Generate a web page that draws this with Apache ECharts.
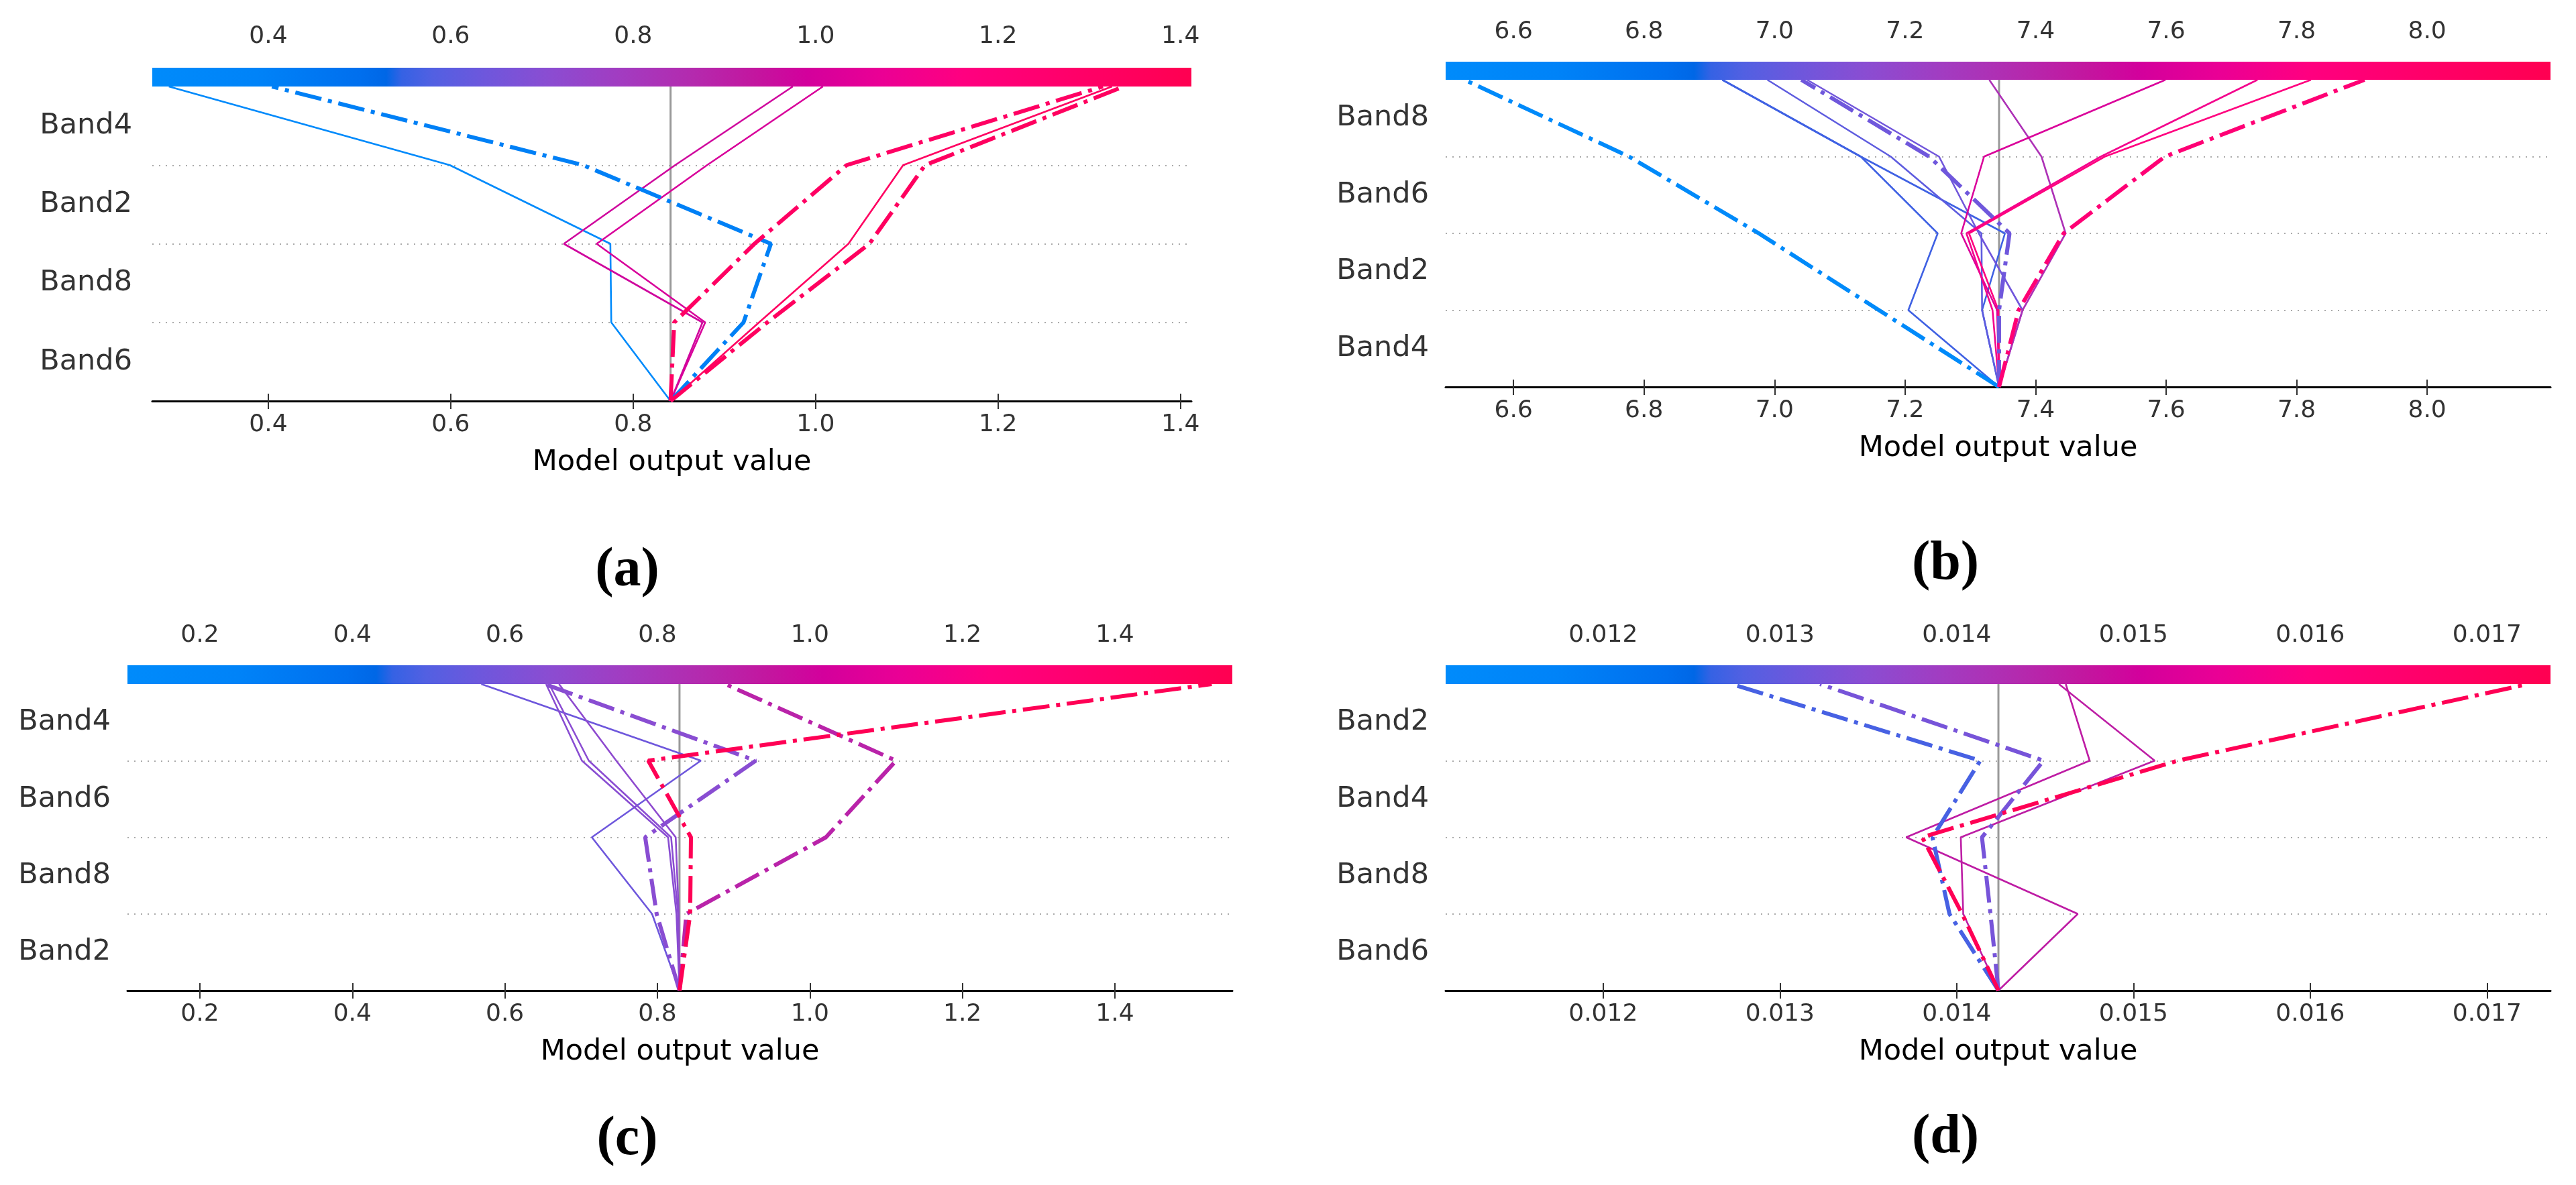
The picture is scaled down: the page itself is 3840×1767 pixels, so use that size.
<!DOCTYPE html>
<html>
<head>
<meta charset="utf-8">
<script src="https://cdn.jsdelivr.net/npm/echarts@6/dist/echarts.min.js"></script>
<style>
html,body{margin:0;padding:0;background:#ffffff;}
#chart{width:3840px;height:1767px;}
</style>
</head>
<body>
<div id="chart"></div>
<script>
// ===================== DATA =====================
// Each path: cumulative model output at levels 0 (base) .. 4 (final)
// Panel (a)
const featuresA = ['Band6', 'Band8', 'Band2', 'Band4']; // bottom -> top
const baseA = 0.841;
const rangeA = [0.2728, 1.412];
const ticksA = [0.4, 0.6, 0.8, 1.0, 1.2, 1.4];
const pathsA = [
  [0.841, 0.776, 0.775, 0.599, 0.291],
  [0.841, 0.876, 0.724, 0.846, 0.975],
  [0.841, 0.879, 0.760, 0.881, 1.008],
  [0.841, 0.938, 1.036, 1.096, 1.325],
  [0.841, 0.921, 0.951, 0.745, 0.404],
  [0.841, 0.845, 0.933, 1.034, 1.315],
  [0.841, 0.947, 1.059, 1.120, 1.338]
];
const dashedA = [false, false, false, false, true, true, true];

// Panel (b)
const featuresB = ['Band4', 'Band2', 'Band6', 'Band8'];
const baseB = 7.344;
const rangeB = [6.496, 8.189];
const ticksB = [6.6, 6.8, 7.0, 7.2, 7.4, 7.6, 7.8, 8.0];
const pathsB = [
  [7.344, 7.205, 7.250, 7.132, 6.920],
  [7.344, 7.318, 7.353, 7.132, 6.920],
  [7.344, 7.318, 7.317, 7.178, 6.989],
  [7.344, 7.380, 7.313, 7.252, 7.050],
  [7.344, 7.380, 7.446, 7.409, 7.329],
  [7.344, 7.341, 7.286, 7.321, 7.599],
  [7.344, 7.334, 7.294, 7.500, 7.740],
  [7.344, 7.343, 7.298, 7.506, 7.822],
  [7.344, 7.160, 6.976, 6.777, 6.525],
  [7.344, 7.344, 7.360, 7.237, 7.041],
  [7.344, 7.374, 7.443, 7.598, 7.904]
];
const dashedB = [false, false, false, false, false, false, false, false, true, true, true];

// Panel (c)
const featuresC = ['Band2', 'Band8', 'Band6', 'Band4'];
const baseC = 0.829;
const rangeC = [0.105, 1.554];
const ticksC = [0.2, 0.4, 0.6, 0.8, 1.0, 1.2, 1.4];
const pathsC = [
  [0.829, 0.793, 0.714, 0.857, 0.569],
  [0.829, 0.825, 0.814, 0.701, 0.654],
  [0.829, 0.827, 0.818, 0.710, 0.658],
  [0.829, 0.828, 0.824, 0.746, 0.671],
  [0.829, 0.799, 0.784, 0.929, 0.652],
  [0.829, 0.838, 1.021, 1.113, 0.889],
  [0.829, 0.843, 0.844, 0.788, 1.527]
];
const dashedC = [false, false, false, false, true, true, true];

// Panel (d)
const featuresD = ['Band6', 'Band8', 'Band4', 'Band2'];
const baseD = 0.014236;
const rangeD = [0.011109, 0.017359];
const ticksD = [0.012, 0.013, 0.014, 0.015, 0.016, 0.017];
const pathsD = [
  [0.014236, 0.014685, 0.013714, 0.014752, 0.014617],
  [0.014236, 0.014037, 0.014023, 0.015120, 0.014578],
  [0.014236, 0.013959, 0.013863, 0.014133, 0.012726],
  [0.014236, 0.014191, 0.014143, 0.014491, 0.013227],
  [0.014236, 0.014031, 0.013805, 0.015250, 0.017233]
];
const dashedD = [false, false, true, true, true];

const captions = ['(a)', '(b)', '(c)', '(d)'];
const xAxisTitle = 'Model output value';

// ===================== STYLE / LAYOUT =====================
const cmapStops = [
  [0.00, '#008bfb'], [0.10, '#0083f8'], [0.20, '#006fee'], [0.225, '#0067e6'],
  [0.24, '#3562e4'], [0.27, '#5260e2'], [0.32, '#6e57dc'], [0.38, '#8a4dd2'],
  [0.45, '#a23cc1'], [0.52, '#b42aae'], [0.58, '#c3169f'], [0.63, '#d3009c'],
  [0.70, '#ea0095'], [0.78, '#ff0080'], [0.88, '#ff006a'], [1.00, '#ff0051']
];
function hex2rgb(h) { return [parseInt(h.substr(1,2),16), parseInt(h.substr(3,2),16), parseInt(h.substr(5,2),16)]; }
function cmap(t) {
  t = Math.max(0, Math.min(1, t));
  for (let i = 1; i < cmapStops.length; i++) {
    if (t <= cmapStops[i][0]) {
      const a = cmapStops[i-1], b = cmapStops[i];
      const f = (t - a[0]) / (b[0] - a[0]);
      const ca = hex2rgb(a[1]), cb = hex2rgb(b[1]);
      const c = ca.map((v, k) => Math.round(v + (cb[k] - v) * f));
      return 'rgb(' + c.join(',') + ')';
    }
  }
  return cmapStops[cmapStops.length - 1][1];
}

const W = 3840, H = 1767;
const layouts = [
  { left: 227, rightEdge: 1776, top: 129, bottomEdge: 598, cbH: 28, labelGap: 30, topMargin: 28, cap: [935, 852], digits: 1 },
  { left: 2155, rightEdge: 3802, top: 119, bottomEdge: 577, cbH: 27, labelGap: 25, topMargin: 26, cap: [2900, 842], digits: 1 },
  { left: 190, rightEdge: 1837, top: 1020, bottomEdge: 1477, cbH: 28, labelGap: 25, topMargin: 26, cap: [935, 1700], digits: 1 },
  { left: 2155, rightEdge: 3802, top: 1020, bottomEdge: 1477, cbH: 28, labelGap: 25, topMargin: 26, cap: [2900, 1697], digits: 3 }
];

const panels = [
  { features: featuresA, base: baseA, range: rangeA, ticks: ticksA, paths: pathsA, dashed: dashedA },
  { features: featuresB, base: baseB, range: rangeB, ticks: ticksB, paths: pathsB, dashed: dashedB },
  { features: featuresC, base: baseC, range: rangeC, ticks: ticksC, paths: pathsC, dashed: dashedC },
  { features: featuresD, base: baseD, range: rangeD, ticks: ticksD, paths: pathsD, dashed: dashedD }
];

const FONT = 'DejaVu Sans';
const grids = [], xAxes = [], yAxes = [], series = [], graphics = [];

panels.forEach((p, i) => {
  const L = layouts[i];
  grids.push({ left: L.left, right: W - L.rightEdge, top: L.top, bottom: H - L.bottomEdge, containLabel: false });
  const fmt = v => Number(v).toFixed(L.digits);
  // bottom axis
  xAxes.push({
    gridIndex: i, type: 'value', position: 'bottom', min: p.range[0], max: p.range[1],
    axisLine: { show: true, onZero: false, lineStyle: { color: '#000000', width: 3 } },
    axisTick: { show: true, customValues: p.ticks, length: 12, lineStyle: { color: '#333333', width: 2 } },
    axisLabel: { customValues: p.ticks, formatter: fmt, fontSize: 36, color: '#333333', margin: 18, fontFamily: FONT },
    splitLine: { show: false },
    name: xAxisTitle, nameLocation: 'middle', nameGap: 70,
    nameTextStyle: { fontSize: 43, color: '#000000', fontFamily: FONT }
  });
  // top axis (above colour bar)
  xAxes.push({
    gridIndex: i, type: 'value', position: 'top', offset: L.cbH, min: p.range[0], max: p.range[1],
    axisLine: { show: false },
    axisTick: { show: true, customValues: p.ticks, length: 11, lineStyle: { color: '#333333', width: 2 } },
    axisLabel: { customValues: p.ticks, formatter: fmt, fontSize: 36, color: '#333333', margin: L.topMargin, fontFamily: FONT },
    splitLine: { show: false }
  });
  // value y axis for the paths
  yAxes.push({
    gridIndex: i, type: 'value', min: 0, max: 4, interval: 1,
    axisLine: { show: false }, axisTick: { show: false }, axisLabel: { show: false },
    splitLine: { show: true, showMinLine: false, showMaxLine: false, lineStyle: { color: '#aaaaaa', width: 2, type: [2, 8] } }
  });
  // category y axis for feature names
  yAxes.push({
    gridIndex: i, type: 'category', data: p.features, boundaryGap: true, position: 'left',
    axisLine: { show: false }, axisTick: { show: false }, splitLine: { show: false },
    axisLabel: { interval: 0, fontSize: 43, color: '#333333', margin: L.labelGap, fontFamily: FONT }
  });
  // base value line
  series.push({
    type: 'line', xAxisIndex: 2 * i, yAxisIndex: 2 * i, data: [[p.base, 0], [p.base, 4]],
    symbol: 'none', silent: true, z: 1, lineStyle: { color: '#999999', width: 3 }
  });
  // decision paths
  p.paths.forEach((path, k) => {
    const t = (path[path.length - 1] - p.range[0]) / (p.range[1] - p.range[0]);
    series.push({
      type: 'line', xAxisIndex: 2 * i, yAxisIndex: 2 * i,
      data: path.map((v, lvl) => [v, lvl]),
      symbol: 'none', silent: true, z: 2,
      lineStyle: p.dashed[k]
        ? { color: cmap(t), width: 6, type: [40, 10, 6, 10] }
        : { color: cmap(t), width: 2.6, type: 'solid' }
    });
  });
  // colour bar
  graphics.push({
    type: 'rect', z: 100, silent: true,
    shape: { x: L.left, y: L.top - L.cbH, width: L.rightEdge - L.left, height: L.cbH },
    style: { fill: { type: 'linear', x: 0, y: 0, x2: 1, y2: 0, colorStops: cmapStops.map(s => ({ offset: s[0], color: s[1] })) } }
  });
  // caption
  graphics.push({
    type: 'text', z: 100, silent: true, x: L.cap[0], y: L.cap[1],
    style: { text: captions[i], font: 'bold 82px "Liberation Serif"', fill: '#000000', textAlign: 'center', textVerticalAlign: 'middle' }
  });
});

const chart = echarts.init(document.getElementById('chart'), null, { renderer: 'canvas' });
chart.setOption({
  backgroundColor: '#ffffff',
  animation: false,
  textStyle: { fontFamily: FONT },
  grid: grids,
  xAxis: xAxes,
  yAxis: yAxes,
  series: series,
  graphic: graphics
});
</script>
</body>
</html>
